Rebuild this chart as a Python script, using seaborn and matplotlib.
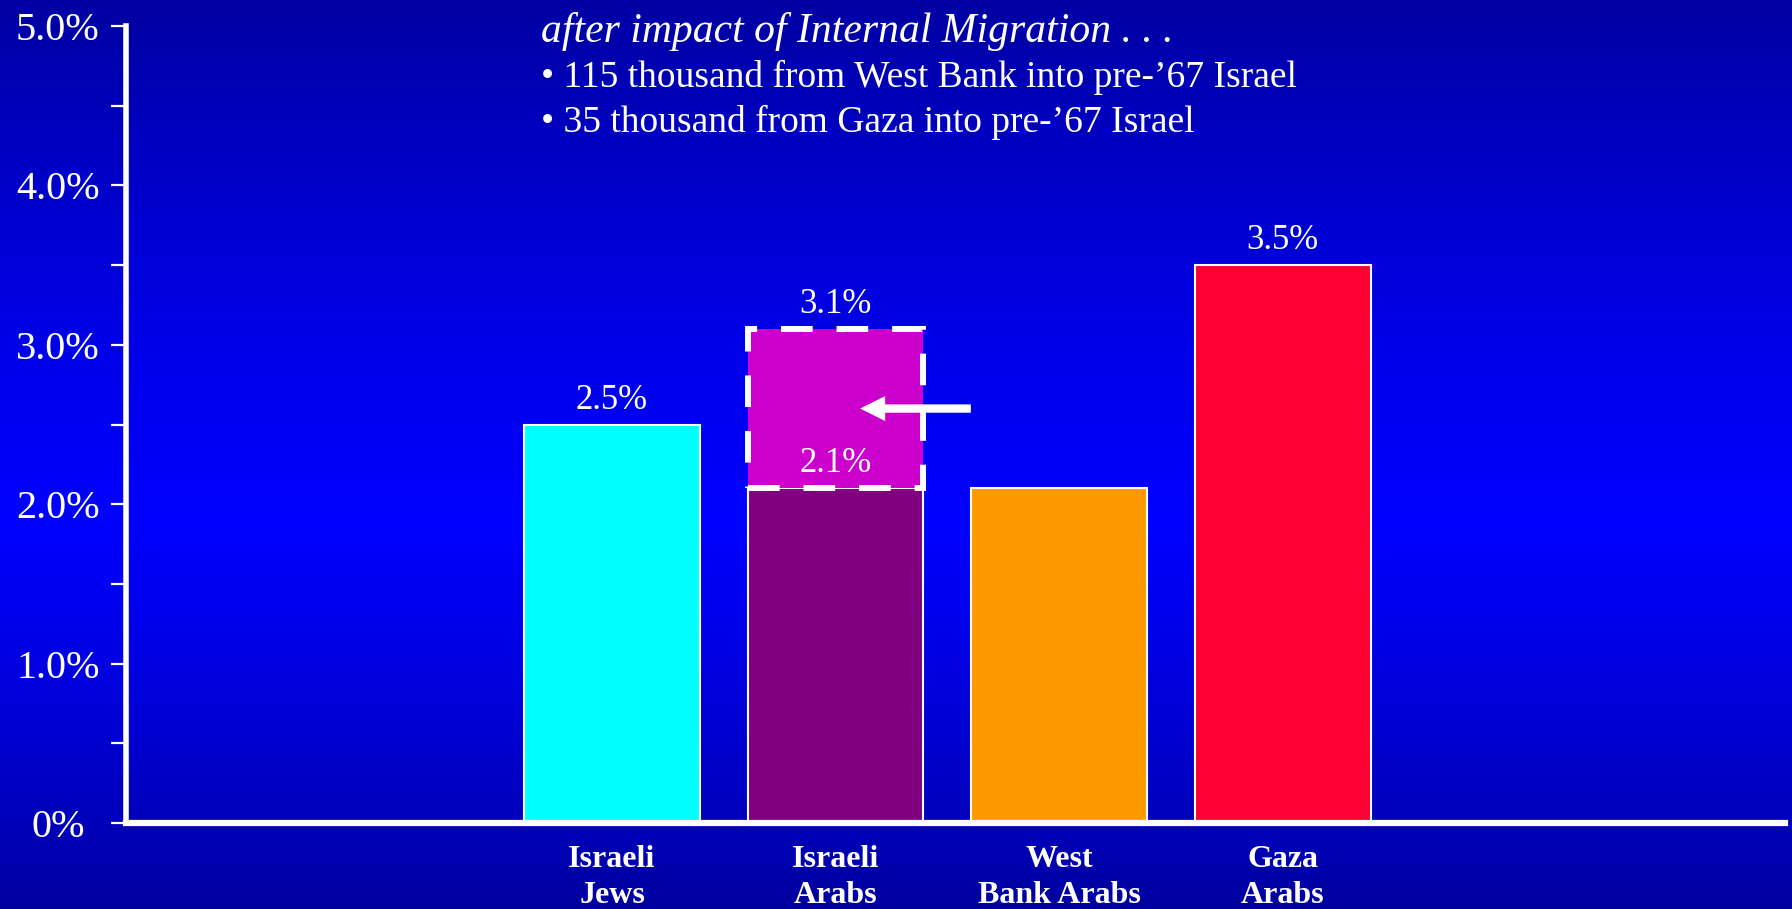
import numpy as np
import pandas as pd
import matplotlib
matplotlib.use("Agg")
import matplotlib.pyplot as plt
from matplotlib.patches import FancyArrowPatch
from matplotlib.transforms import ScaledTranslation
import seaborn as sns

# ---- data ----
categories = ["Israeli\nJews", "Israeli\nArabs", "West\nBank Arabs", "Gaza\nArabs"]
growth_rates = [2.5, 2.1, 2.1, 3.5]
show_value_label = [True, True, False, True]
after_migration_cat = "Israeli\nArabs"
after_migration_rate = 3.1
bar_colors = ["#00FFFF", "#800080", "#FF9900", "#FF0033"]
after_color = "#CC00CC"
y_ticks = [0, 1, 2, 3, 4, 5]
y_tick_labels = ["0%", "1.0%", "2.0%", "3.0%", "4.0%", "5.0%"]
note_title = "after impact of Internal Migration . . ."
note_lines = ["\u2022 115 thousand from West Bank into pre-\u201967 Israel",
              "\u2022 35 thousand from Gaza into pre-\u201967 Israel"]

df = pd.DataFrame({"cat": categories, "rate": growth_rates})

sns.set_theme(style="white")
plt.rcParams["font.family"] = ["Liberation Serif", "DejaVu Serif"]

fig = plt.figure(figsize=(17.92, 9.09), dpi=100)

# background gradient
bg = fig.add_axes([0, 0, 1, 1], zorder=-10)
ys = np.linspace(0, 1, 400)
top_c = np.array([0x00, 0x00, 0xA2]) / 255
mid_c = np.array([0x00, 0x00, 0xFF]) / 255
bot_c = np.array([0x00, 0x00, 0x9C]) / 255
mid = 0.42
cols = np.zeros((400, 3))
for i, y in enumerate(ys):
    if y < mid:
        t = y / mid
        cols[i] = bot_c + (mid_c - bot_c) * t ** 0.8
    else:
        t = (y - mid) / (1 - mid)
        cols[i] = mid_c + (top_c - mid_c) * t ** 1.3
grad = np.repeat(cols[:, None, :], 2, axis=1)
bg.imshow(grad, aspect="auto", origin="lower", extent=[0, 1, 0, 1])
bg.set_axis_off()

ax = fig.add_axes([0.0703, 0.0946, 0.996 - 0.0703, 0.9714 - 0.0946])
ax.patch.set_alpha(0)

sns.barplot(data=df, x="cat", y="rate", hue="cat", palette=bar_colors,
            legend=False, width=0.786, edgecolor="white", linewidth=1.5,
            saturation=1, ax=ax, zorder=3)

# increment after migration
idx = categories.index(after_migration_cat)
base = growth_rates[idx]
ax.bar(idx, after_migration_rate - base, bottom=base, width=0.786,
       color=after_color, edgecolor="white", linewidth=4.3,
       linestyle=(0, (5.3, 4.0)), zorder=4)

# value labels
for i, v in enumerate(growth_rates):
    if show_value_label[i]:
        ax.text(i, v + 0.05, f"{v:.1f}%", ha="center", va="bottom",
                color="white", fontsize=25, zorder=6)
ax.text(idx, after_migration_rate + 0.05, f"{after_migration_rate:.1f}%",
        ha="center", va="bottom", color="white", fontsize=25, zorder=6)

# arrow
ymid = (base + after_migration_rate) / 2
arr = FancyArrowPatch((idx + 0.605, ymid), (idx + 0.11, ymid),
                      arrowstyle="simple,head_length=1.8,head_width=1.8,tail_width=0.6",
                      mutation_scale=10, color="white", lw=0, zorder=7,
                      shrinkA=0, shrinkB=0)
ax.add_patch(arr)

ax.set_xlim(-2.174, 5.246)
ax.set_ylim(0, 5)
ax.set_yticks(y_ticks)
ax.set_yticklabels(y_tick_labels)
ax.set_yticks(np.arange(0.5, 5, 1.0), minor=True)
ax.tick_params(axis="y", which="both", direction="out", length=11, width=1.6,
               color="white", labelcolor="white", labelsize=29, pad=8, left=True)
ax.tick_params(axis="x", length=0, labelcolor="white", pad=16)
for lab in ax.get_xticklabels():
    lab.set_fontweight("bold")
    lab.set_fontsize(23)
    lab.set_linespacing(1.3)
ax.set_xlabel("")
ax.set_ylabel("")
for s in ["top", "right"]:
    ax.spines[s].set_visible(False)
ax.spines["left"].set_color("white")
ax.spines["left"].set_linewidth(4)
ax.spines["bottom"].set_color("white")
ax.spines["bottom"].set_linewidth(4.5)
ax.spines["bottom"].set_capstyle("projecting")
ax.spines["bottom"].set_zorder(8)
ax.grid(False)

# "0%" label sits a little further left in the original
zero_lab = ax.get_yticklabels()[0]
zero_lab.set_transform(zero_lab.get_transform() +
                       ScaledTranslation(-0.15, 0, fig.dpi_scale_trans))

# notes
x0 = 541 / 1792
fig.text(x0, 1 - 12 / 909, note_title, style="italic", color="white",
         fontsize=30, va="top", ha="left")
for k, line in enumerate(note_lines):
    fig.text(x0, 1 - (15 + 45 * (k + 1)) / 909, line, color="white",
             fontsize=27, va="top", ha="left")

fig.savefig("out.png", dpi=100)
